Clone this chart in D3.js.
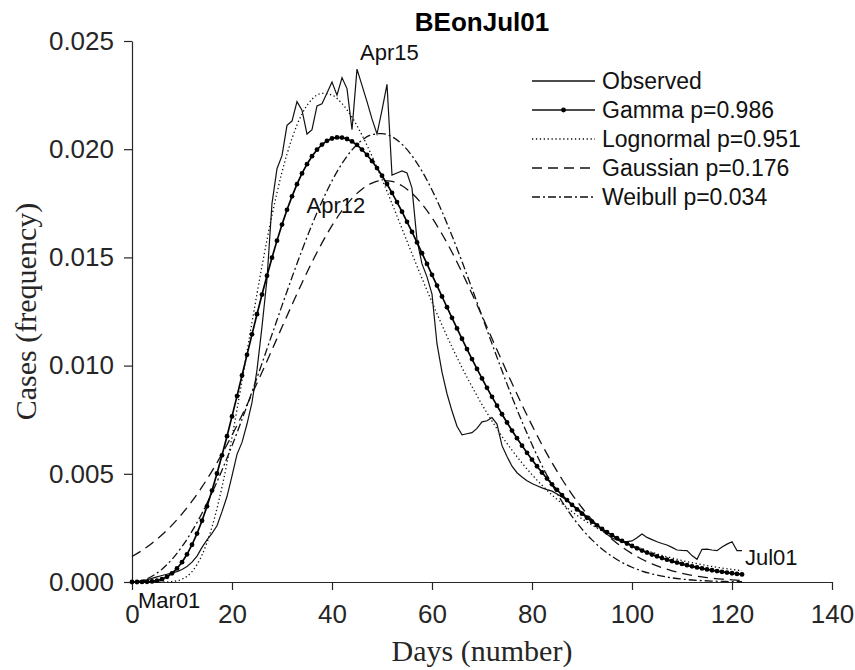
<!DOCTYPE html>
<html>
<head>
<meta charset="utf-8">
<script src="https://cdn.jsdelivr.net/npm/d3@7"></script>
<style>
  body { margin: 0; background: #fff; }
  svg { display: block; }
</style>
</head>
<body>
<svg id="chart" width="855" height="670"></svg>
<script>
// observed daily frequency, day 0 (Mar01) .. day 122 (Jul01)
var observed = [
  0, 0, 0.00005, 0.00010, 0.00017, 0.00024, 0.00030, 0.00036, 0.00042, 0.00048,
  0.00058, 0.00072, 0.00092, 0.00120, 0.00160, 0.00195, 0.00225, 0.00260, 0.00325, 0.00395,
  0.00490, 0.00590, 0.00645, 0.00730, 0.00830, 0.00980, 0.01180, 0.01400, 0.01750, 0.01910,
  0.01970, 0.02110, 0.02130, 0.02220, 0.02180, 0.02070, 0.02090, 0.02200, 0.02210, 0.02260,
  0.02310, 0.02250, 0.02330, 0.02280, 0.02090, 0.02370, 0.02295, 0.02220, 0.02140, 0.02070,
  0.02180, 0.02300, 0.01880, 0.01890, 0.01900, 0.01890, 0.01820, 0.01580, 0.01470, 0.01410,
  0.01330, 0.01100, 0.00970, 0.00870, 0.00790, 0.00720, 0.00680, 0.00685, 0.00690, 0.00710,
  0.00740, 0.00745, 0.00760, 0.00730, 0.00630, 0.00580, 0.00535, 0.00505, 0.00485, 0.00468,
  0.00455, 0.00445, 0.00435, 0.00427, 0.00420, 0.00407, 0.00393, 0.00378, 0.00358, 0.00340,
  0.00322, 0.00302, 0.00284, 0.00262, 0.00242, 0.00220, 0.00203, 0.00194, 0.00187, 0.00187,
  0.00190, 0.00205, 0.00222, 0.00206, 0.00196, 0.00186, 0.00178, 0.00171, 0.00160, 0.00148,
  0.00146, 0.00145, 0.00122, 0.00105, 0.00151, 0.00152, 0.00148, 0.00145, 0.00162, 0.00175,
  0.00186, 0.00145, 0.00145
];

// gamma fit, one value per day (drawn with markers)
var gamma = [
  0, 0.0000001, 0.0000012, 0.0000071, 0.0000245, 0.0000623, 0.000131, 0.000241, 0.000403, 0.000626,
  0.000917, 0.001281, 0.001722, 0.002238, 0.002831, 0.003495, 0.004224, 0.005013, 0.005854, 0.006737,
  0.007653, 0.008591, 0.009542, 0.010497, 0.011443, 0.012375, 0.013282, 0.014153, 0.014988, 0.015775,
  0.016515, 0.017199, 0.017822, 0.018383, 0.018881, 0.019306, 0.019676, 0.019976, 0.020213, 0.020387,
  0.020494, 0.020545, 0.020539, 0.020471, 0.020359, 0.020200, 0.019984, 0.019735, 0.019451, 0.019127,
  0.018773, 0.018391, 0.017981, 0.017558, 0.017111, 0.016645, 0.016178, 0.015692, 0.015193, 0.014697,
  0.014194, 0.013698, 0.013194, 0.012697, 0.012206, 0.011718, 0.011240, 0.010765, 0.010301, 0.009848,
  0.009406, 0.008974, 0.008555, 0.008147, 0.007752, 0.007370, 0.006999, 0.006644, 0.006301, 0.005970,
  0.005654, 0.005349, 0.005059, 0.004780, 0.004514, 0.004261, 0.004016, 0.003785, 0.003565, 0.003356,
  0.003157, 0.002969, 0.002789, 0.002619, 0.002458, 0.002306, 0.002162, 0.002026, 0.001898, 0.001777,
  0.001663, 0.001555, 0.001454, 0.001359, 0.001269, 0.001185, 0.001106, 0.001031, 0.000962, 0.000896,
  0.000835, 0.000778, 0.000724, 0.000674, 0.000627, 0.000583, 0.000542, 0.000504, 0.000468, 0.000435,
  0.000404, 0.000375, 0.000348
];

// other fits, every second day
var fitDays = [
  0, 2, 4, 6, 8, 10, 12, 14, 16, 18, 20, 22, 24, 26, 28, 30, 32, 34, 36, 38,
  40, 42, 44, 46, 48, 50, 52, 54, 56, 58, 60, 62, 64, 66, 68, 70, 72, 74, 76, 78,
  80, 82, 84, 86, 88, 90, 92, 94, 96, 98, 100, 102, 104, 106, 108, 110, 112, 114, 116, 118,
  120, 122
];
var lognormal = [
  0, 0, 0, 0.000001, 0.000021, 0.000131, 0.000480, 0.001243, 0.002541, 0.004390,
  0.006698, 0.009297, 0.01200, 0.01460, 0.01695, 0.01894, 0.02050, 0.02163, 0.02231, 0.02258,
  0.02250, 0.02211, 0.02148, 0.02065, 0.01968, 0.01861, 0.01749, 0.01633, 0.01517, 0.01403,
  0.01293, 0.01187, 0.01086, 0.00991, 0.00903, 0.00820, 0.00744, 0.00673, 0.00609, 0.00550,
  0.00496, 0.00447, 0.00402, 0.00362, 0.00325, 0.00292, 0.00263, 0.00236, 0.00212, 0.00190,
  0.00171, 0.00153, 0.00137, 0.00123, 0.00111, 0.000993, 0.000891, 0.000800, 0.000718, 0.000645,
  0.000579, 0.000520
];
var gaussian = [
  0.001176, 0.001457, 0.001790, 0.002179, 0.002630, 0.003147, 0.003734, 0.004392, 0.005121, 0.005919,
  0.006785, 0.007708, 0.008682, 0.009694, 0.01073, 0.01178, 0.01281, 0.01382, 0.01478, 0.01567,
  0.01647, 0.01716, 0.01773, 0.01815, 0.01843, 0.01855, 0.01851, 0.01831, 0.01796, 0.01746,
  0.01683, 0.01608, 0.01524, 0.01431, 0.01332, 0.01230, 0.01125, 0.01021, 0.009184, 0.008189,
  0.007239, 0.006344, 0.005512, 0.004748, 0.004054, 0.003431, 0.002880, 0.002396, 0.001977, 0.001617,
  0.001310, 0.001053, 0.000839, 0.000663, 0.000519, 0.000403, 0.000310, 0.000237, 0.000179, 0.000134,
  0.000100, 0.000074
];
var weibull = [
  0, 0.0000658, 0.000263, 0.000592, 0.001050, 0.001637, 0.002348, 0.003178, 0.004120, 0.005164,
  0.006300, 0.007514, 0.008788, 0.010103, 0.011439, 0.012773, 0.014079, 0.015335, 0.016513, 0.017587,
  0.018536, 0.019336, 0.019969, 0.020417, 0.020671, 0.020724, 0.020576, 0.020229, 0.019694, 0.018983,
  0.018115, 0.017115, 0.016001, 0.014808, 0.013560, 0.012287, 0.011009, 0.009758, 0.008552, 0.007413,
  0.006349, 0.005375, 0.004497, 0.003716, 0.003032, 0.002444, 0.001945, 0.001527, 0.001183, 0.000904,
  0.000682, 0.000507, 0.000372, 0.000269, 0.000191, 0.000134, 0.0000927, 0.0000631, 0.0000423, 0.0000280,
  0.0000181, 0.0000115
];

var legendLabels = ["Observed", "Gamma p=0.986", "Lognormal p=0.951", "Gaussian p=0.176", "Weibull p=0.034"];
var xTicks = [0, 20, 40, 60, 80, 100, 120, 140];
var yTicks = [0, 0.005, 0.010, 0.015, 0.020, 0.025];

// date labels: text, day and value where the text starts
var dateLabels = ["Apr15", "Apr12", "Mar01", "Jul01"];
var dateLabelDays = [45.6, 34.9, 1.2, 122.6];
var dateLabelValues = [0.02412, 0.01705, -0.00120, 0.00079];

var svg = d3.select("#chart");
var axisColor = "#262626";
var sansFont = "'Liberation Sans', Arial, sans-serif";
var serifFont = "'Liberation Serif', 'Times New Roman', serif";

var x = d3.scaleLinear().domain([0, 140]).range([132, 832]);
var y = d3.scaleLinear().domain([0, 0.025]).range([582, 41]);

// axes
var xAxis = svg.append("g")
    .attr("transform", "translate(0," + y(0) + ")")
    .call(d3.axisBottom(x).tickValues(xTicks).tickSize(8).tickSizeOuter(0).tickPadding(15));
var yAxis = svg.append("g")
    .attr("transform", "translate(" + x(0) + ",0)")
    .call(d3.axisLeft(y).tickValues(yTicks).tickFormat(d3.format(".3f")).tickSize(8).tickSizeOuter(0).tickPadding(10));

[xAxis, yAxis].forEach(g => {
    g.select(".domain").attr("stroke", axisColor).attr("stroke-width", 1.2);
    g.selectAll(".tick line").attr("stroke", axisColor).attr("stroke-width", 1.2);
    g.selectAll(".tick text")
        .attr("fill", axisColor)
        .style("font-family", sansFont)
        .style("font-size", "26px");
});

// lines
var dayLine = d3.line()
    .x((d, i) => x(i))
    .y(d => y(d));
var fitLine = d3.line()
    .x((d, i) => x(fitDays[i]))
    .y(d => y(d))
    .curve(d3.curveMonotoneX);

svg.append("path")
    .attr("d", dayLine(observed))
    .attr("fill", "none")
    .attr("stroke", "#111")
    .attr("stroke-width", 1.2);

svg.append("path")
    .attr("d", fitLine(lognormal))
    .attr("fill", "none")
    .attr("stroke", "#111")
    .attr("stroke-width", 1.3)
    .attr("stroke-dasharray", "1.3,2.6");

svg.append("path")
    .attr("d", fitLine(gaussian))
    .attr("fill", "none")
    .attr("stroke", "#111")
    .attr("stroke-width", 1.3)
    .attr("stroke-dasharray", "10,6");

svg.append("path")
    .attr("d", fitLine(weibull))
    .attr("fill", "none")
    .attr("stroke", "#111")
    .attr("stroke-width", 1.3)
    .attr("stroke-dasharray", "8,3,2,3");

svg.append("path")
    .attr("d", dayLine(gamma))
    .attr("fill", "none")
    .attr("stroke", "#000")
    .attr("stroke-width", 1.7);

svg.append("g")
    .selectAll("circle")
    .data(gamma)
    .join("circle")
    .attr("cx", (d, i) => x(i))
    .attr("cy", d => y(d))
    .attr("r", 2.4)
    .attr("fill", "#000");

// date labels
dateLabels.forEach((t, i) => {
    svg.append("text")
        .attr("x", x(dateLabelDays[i]))
        .attr("y", y(dateLabelValues[i]))
        .attr("fill", "#111")
        .style("font-family", sansFont)
        .style("font-size", "22px")
        .text(t);
});

// legend
var legendX1 = 532, legendX2 = 595, legendTop = 81, legendStep = 29;
var dashes = [null, null, "1.3,2.6", "10,6", "8,3,2,3"];
legendLabels.forEach((t, i) => {
    var ly = legendTop + i * legendStep;
    svg.append("line")
        .attr("x1", legendX1).attr("x2", legendX2)
        .attr("y1", ly).attr("y2", ly)
        .attr("stroke", "#111")
        .attr("stroke-width", i == 1 ? 1.6 : 1.3)
        .attr("stroke-dasharray", dashes[i]);
    if (i == 1) {
        svg.append("circle")
            .attr("cx", (legendX1 + legendX2) / 2)
            .attr("cy", ly)
            .attr("r", 2.4)
            .attr("fill", "#000");
    }
    svg.append("text")
        .attr("x", legendX2 + 7)
        .attr("y", ly)
        .attr("dy", "0.35em")
        .attr("fill", "#111")
        .style("font-family", sansFont)
        .style("font-size", "23px")
        .text(t);
});

// title and axis labels
svg.append("text")
    .attr("x", (x(0) + x(140)) / 2)
    .attr("y", 31)
    .attr("text-anchor", "middle")
    .attr("fill", "#000")
    .style("font-family", sansFont)
    .style("font-weight", "bold")
    .style("font-size", "26px")
    .text("BEonJul01");

svg.append("text")
    .attr("x", (x(0) + x(140)) / 2)
    .attr("y", 661)
    .attr("text-anchor", "middle")
    .attr("fill", axisColor)
    .style("font-family", serifFont)
    .style("font-size", "30px")
    .text("Days (number)");

svg.append("text")
    .attr("transform", "translate(36," + ((y(0) + y(0.025)) / 2) + ") rotate(-90)")
    .attr("text-anchor", "middle")
    .attr("fill", axisColor)
    .style("font-family", serifFont)
    .style("font-size", "30px")
    .text("Cases (frequency)");
</script>
</body>
</html>
